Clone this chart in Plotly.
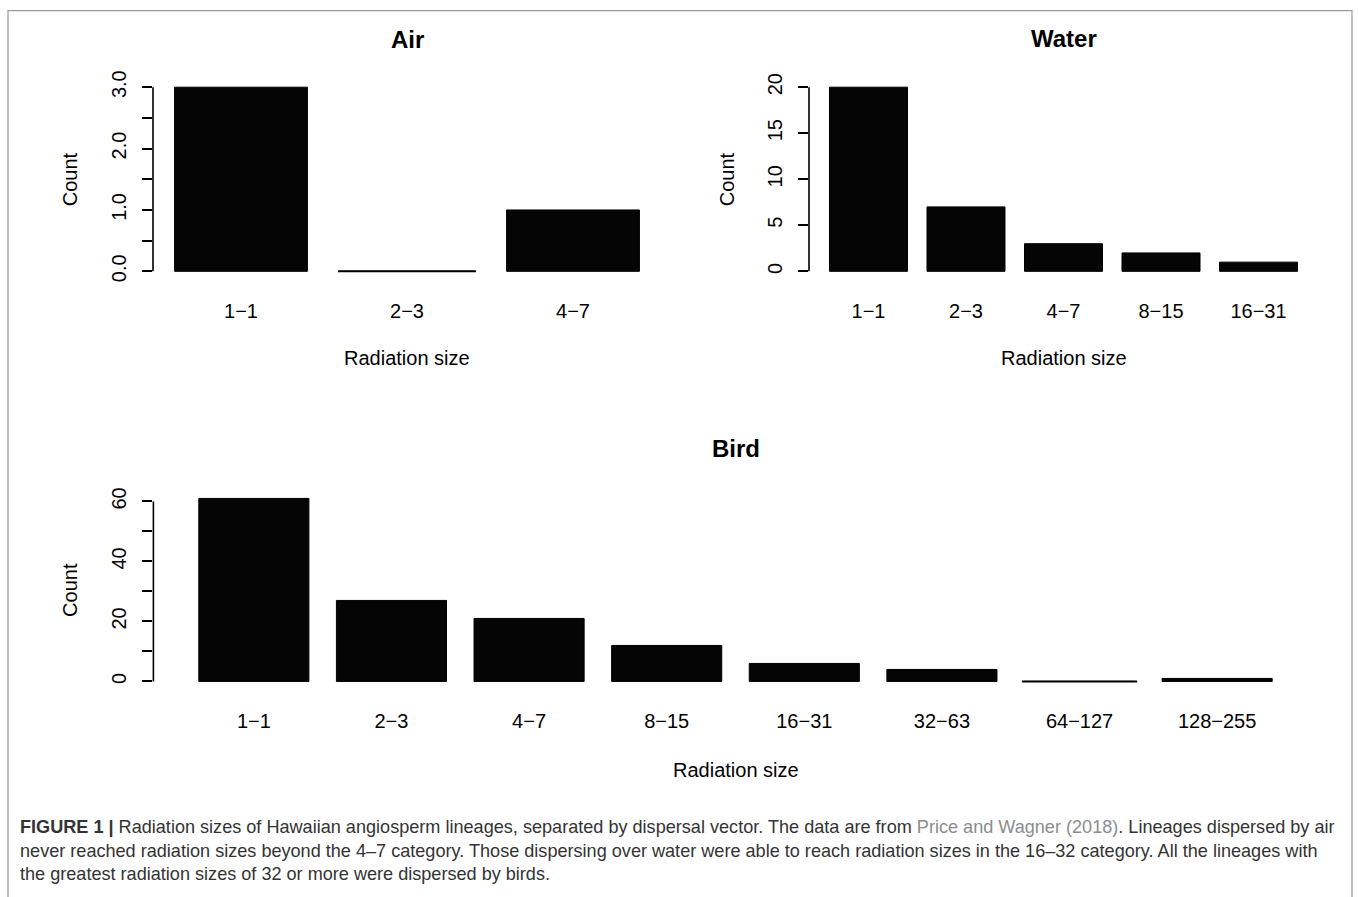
import plotly.graph_objects as go

# ---------------- data ----------------
air_cats = ["1\u22121", "2\u22123", "4\u22127"]
air_counts = [3, 0, 1]

water_cats = ["1\u22121", "2\u22123", "4\u22127", "8\u221215", "16\u221231"]
water_counts = [20, 7, 3, 2, 1]

bird_cats = ["1\u22121", "2\u22123", "4\u22127", "8\u221215", "16\u221231",
             "32\u221263", "64\u2212127", "128\u2212255"]
bird_counts = [61, 27, 21, 12, 6, 4, 0, 1]

air_yticks = [0, 0.5, 1.0, 1.5, 2.0, 2.5, 3.0]
air_yticktext = ["0.0", "", "1.0", "", "2.0", "", "3.0"]
water_yticks = [0, 5, 10, 15, 20]
water_yticktext = ["0", "5", "10", "15", "20"]
bird_yticks = [0, 10, 20, 30, 40, 50, 60]
bird_yticktext = ["0", "", "20", "", "40", "", "60"]

caption_lines = [
    "<b>FIGURE 1 |</b> Radiation sizes of Hawaiian angiosperm lineages, separated by dispersal vector. "
    "The data are from <span style='color:#8c8c8c'>Price and Wagner (2018)</span>. Lineages dispersed by air",
    "never reached radiation sizes beyond the 4\u20137 category. Those dispersing over water were able to reach "
    "radiation sizes in the 16\u201332 category. All the lineages with",
    "the greatest radiation sizes of 32 or more were dispersed by birds.",
]

# ---------------- layout geometry ----------------
W, H = 1358, 897
FONT = "Liberation Sans"
# the photographed picture maps page y to  9.8 + 0.984 * y ; positions below
# are given in picture pixels and converted back to page pixels
PIC_OFF, PIC_SCALE = 9.8, 0.984


def fx(x):
    return x / W


def fy(y_pic):
    return 1 - ((y_pic - PIC_OFF) / PIC_SCALE) / H


panels = [
    dict(name="Air", cats=air_cats, vals=air_counts, tv=air_yticks, tt=air_yticktext,
         px=(153, 661), py=(79.6, 278.4), title_y=39, xlab_y=358, count_x=70, bar_px=139),
    dict(name="Water", cats=water_cats, vals=water_counts, tv=water_yticks, tt=water_yticktext,
         px=(809, 1318), py=(79.6, 278.4), title_y=38, xlab_y=358, count_x=727, bar_px=82),
    dict(name="Bird", cats=bird_cats, vals=bird_counts, tv=bird_yticks, tt=bird_yticktext,
         px=(153.4, 1317.6), py=(490.7, 688.3), title_y=448, xlab_y=769, count_x=70, bar_px=116),
]

fig = go.Figure()
annotations = []
shapes = []

for i, p in enumerate(panels, start=1):
    xa = "x" if i == 1 else f"x{i}"
    ya = "y" if i == 1 else f"y{i}"
    n = len(p["cats"])
    fig.add_trace(go.Bar(
        x=p["cats"], y=p["vals"], xaxis=xa, yaxis=ya,
        marker=dict(color="#050505", line=dict(color="#000000", width=1)),
        showlegend=False, hoverinfo="x+y",
    ))
    # zero-height bars are drawn by R as a flat outline
    zc = [c for c, v in zip(p["cats"], p["vals"]) if v == 0]
    zv = [v for v in p["vals"] if v == 0]
    if zc:
        fig.add_trace(go.Scatter(
            x=zc, y=zv, xaxis=xa, yaxis=ya, mode="markers",
            marker=dict(symbol="line-ew", size=p["bar_px"] / 1.41, color="#000",
                        line=dict(color="#000", width=2)),
            showlegend=False, hoverinfo="skip", cliponaxis=False,
        ))
    # R barplot extents (space 0.2, 4% padding)
    lo = (0.2 - 0.04 * (1.2 * n - 0.2) - 0.7) / 1.2
    hi = (n - 1) - lo
    ymax = max(p["vals"])
    ylo, yhi = -0.04 * ymax, ymax * 1.04
    xkey = "xaxis" if i == 1 else f"xaxis{i}"
    ykey = "yaxis" if i == 1 else f"yaxis{i}"
    fig.update_layout(**{
        xkey: dict(domain=[fx(p["px"][0]), fx(p["px"][1])], anchor=ya, range=[lo, hi],
                   showline=False, showgrid=False, zeroline=False, ticks="",
                   tickfont=dict(family=FONT, size=20, color="#000"),
                   ticklabelstandoff=18, fixedrange=True),
        ykey: dict(domain=[fy(p["py"][1]), fy(p["py"][0])], anchor=xa, range=[ylo, yhi],
                   showline=False, showgrid=False, zeroline=False,
                   tickmode="array", tickvals=p["tv"], ticktext=p["tt"],
                   ticks="outside", ticklen=10, tickwidth=1.6, tickcolor="#000",
                   tickangle=-90, tickfont=dict(family=FONT, size=20, color="#000"),
                   ticklabelstandoff=8, fixedrange=True),
    })
    # axis line spanning first to last tick, as in base R
    shapes.append(dict(type="line", xref=f"{xa} domain", yref=ya, x0=0, x1=0,
                       y0=p["tv"][0], y1=p["tv"][-1], line=dict(color="#000", width=1.6)))
    cx = (p["px"][0] + p["px"][1]) / 2
    cy = (p["py"][0] + p["py"][1]) / 2
    annotations += [
        dict(text=f"<b>{p['name']}</b>", x=fx(cx), y=fy(p["title_y"]), xref="paper", yref="paper",
             showarrow=False, xanchor="center", yanchor="middle",
             font=dict(family=FONT, size=24, color="#000")),
        dict(text="Radiation size", x=fx(cx), y=fy(p["xlab_y"]), xref="paper", yref="paper",
             showarrow=False, xanchor="center", yanchor="middle",
             font=dict(family=FONT, size=20, color="#000")),
        dict(text="Count", x=fx(p["count_x"]), y=fy(cy), xref="paper", yref="paper",
             showarrow=False, xanchor="center", yanchor="middle", textangle=-90,
             font=dict(family=FONT, size=20, color="#000")),
    ]

for line, yy in zip(caption_lines, [826, 850, 873]):
    annotations.append(dict(text=line, x=fx(18), y=fy(yy), xref="paper", yref="paper",
                            showarrow=False, xanchor="left", yanchor="middle", align="left",
                            font=dict(family=FONT, size=18.1, color="#333333")))

# outer frame of the figure (bottom edge lies below the page)
shapes.append(dict(type="rect", xref="paper", yref="paper", x0=fx(8), x1=fx(1352),
                   y0=-0.05, y1=0.9993, line=dict(color="#9a9a9a", width=1.2)))

fig.update_layout(
    width=W, height=H, margin=dict(l=0, r=0, t=0, b=0, pad=0),
    paper_bgcolor="white", plot_bgcolor="white",
    annotations=annotations, shapes=shapes,
    font=dict(family=FONT, color="#000"), showlegend=False,
)

fig.write_html("out.html", config={"displayModeBar": False},
               post_script="document.body.style.margin='0';document.body.style.overflow='hidden';")
